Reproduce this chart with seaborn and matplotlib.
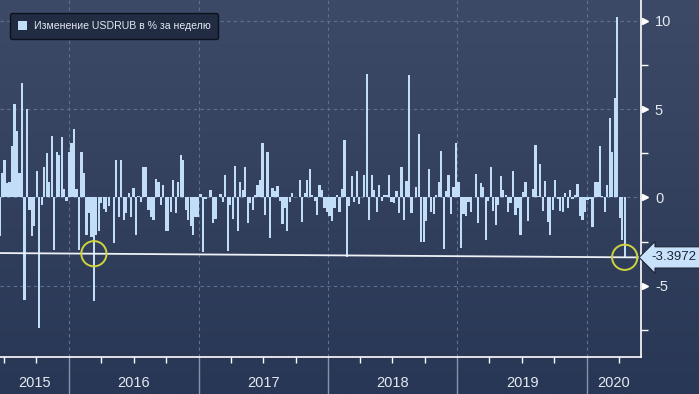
import numpy as np
import pandas as pd
import matplotlib
matplotlib.use('Agg')
import matplotlib.pyplot as plt
import matplotlib.dates as mdates
import matplotlib.transforms as mtransforms
from matplotlib.colors import LinearSegmentedColormap
import seaborn as sns

# weekly USDRUB change, % (oldest first)
weekly_change = [
    -2.2, 1.4, 2.1, 0.8, 0.9, 2.9, 5.3, 3.75, 1.4, 6.5,
    -5.8, 5.0, -0.7, -2.2, -1.6, 1.5, -7.4, -0.4, 1.75, 2.5,
    0.85, 3.5, -3.0, 2.6, 2.4, 3.4, 0.5, -0.2, 2.6, 3.1,
    3.9, 0.5, -3.0, 2.6, 1.4, -2.1, -0.9, -2.25, -5.85, -2.1,
    -1.9, -0.3, -0.65, -0.85, -0.5, 0.05, -2.6, 2.1, -1.1, 2.1,
    -1.3, -0.9, 0.25, -1.1, 0.55, -2.1, 0.1, -0.25, 1.7, 1.75,
    -0.7, -1.1, -1.3, 1.05, 0.85, -0.45, 0.7, -1.9, -1.9, -0.85,
    1.0, -0.9, 0.85, 2.4, 2.1, -0.7, -1.3, -1.6, -2.1, -1.1,
    -1.1, 0.2, -3.1, -0.1, 0.05, 0.45, -1.45, -1.2, 0.05, 0.2,
    -0.25, 1.25, -3.05, -0.45, -1.2, 1.8, -1.9, 0.85, 0.45, 1.75,
    -1.45, -0.3, -0.7, 0.15, 0.7, 1.0, 3.1, -1.0, 2.55, -2.3,
    0.55, 0.35, 0.65, -0.2, -1.5, -0.6, -1.9, -0.25, 0.25, 0.03,
    0.05, 1.0, -1.4, 0.25, 1.0, 1.6, 0.15, -0.2, -1.0, 0.7,
    0.4, -0.6, -0.8, -1.05, -1.35, -0.6, 0.15, -0.8, 0.5, 3.25,
    -3.4, -0.5, 1.2, -0.25, 1.5, -0.35, 0.05, 1.3, 7.0, -1.25,
    1.25, 0.45, -0.85, 0.7, -0.2, 0.15, 0.15, 1.3, -0.25, -0.3,
    0.35, -0.9, 1.7, -1.25, 0.95, 6.95, -0.9, 0.05, 0.6, 3.6,
    -2.5, -2.55, -1.35, 1.6, -0.85, -0.95, 0.15, 0.85, 2.65, -2.9,
    0.35, 1.3, -0.95, 0.6, 3.1, 0.85, -2.85, -0.95, -1.05, -0.25,
    -0.85, 0.03, 1.35, -1.45, 0.8, 0.6, -2.4, -0.2, 1.7, -0.75,
    -1.55, -0.45, 1.2, 0.45, 0.15, -0.85, -0.3, 1.5, -1.0, -0.6,
    -2.15, 0.3, 0.9, -1.35, 0.03, 0.5, 2.95, 0.1, 1.9, -0.75,
    0.95, -1.4, -2.15, -0.7, 1.0, -0.1, -0.75, -0.8, 0.25, -0.6,
    0.45, -0.1, 0.15, 0.75, -1.05, -1.25, -0.85, -0.15, -0.1, -1.7,
    0.85, 0.9, 2.9, 0.1, -0.85, 0.7, 4.5, 2.55, 5.65, 10.2,
    -1.15, -2.4, -3.3972,
]
last_week = '2020-04-17'
x_start, x_end = '2015-06-20', '2020-06-02'

trend_start, trend_end = -3.15, -3.3972
trend_label = '-3.3972'
circled = [38, len(weekly_change) - 1]

years = [2015, 2016, 2017, 2018, 2019, 2020]
y_major = [10, 5, 0, -5]
y_minor = [7.5, 2.5, -2.5, -7.5]
y_lim = (-9.04, 11.19)
legend_label = 'Изменение USDRUB в % за неделю'

bar_color = '#c2ddf7'
grid_color = '#5f7090'
text_color = '#e4e9f0'

dates = pd.date_range(end=last_week, periods=len(weekly_change), freq='7D')
df = pd.DataFrame({'date': mdates.date2num(dates), 'change': weekly_change})

sns.set_style('dark')
plt.rcParams['font.family'] = ['Liberation Sans', 'DejaVu Sans']
plt.rcParams['axes.unicode_minus'] = False

W, H = 699, 394
fig = plt.figure(figsize=(W / 100, H / 100), dpi=100)

# background gradient
bg = fig.add_axes([0, 0, 1, 1], zorder=0)
grad = np.linspace(0, 1, 256).reshape(-1, 1)
cmap = LinearSegmentedColormap.from_list('bb', ['#3d4a67', '#283755'])
bg.imshow(grad, aspect='auto', cmap=cmap, extent=[0, 1, 0, 1])
bg.axis('off')

ax = fig.add_axes([0, 37 / H, 641 / W, 357 / H], zorder=1)
ax.set_facecolor('none')

sns.barplot(data=df, x='date', y='change', native_scale=True, color=bar_color,
            saturation=1, linewidth=0, errorbar=None, label=legend_label,
            width=0.9, ax=ax, zorder=3)

x0 = mdates.date2num(pd.Timestamp(x_start))
x1 = mdates.date2num(pd.Timestamp(x_end))
ax.set_xlim(x0, x1)
ax.set_ylim(*y_lim)
ax.set_xlabel('')
ax.set_ylabel('')
ax.grid(False)

# dashed grid
year_starts = [mdates.date2num(pd.Timestamp(f'{y}-01-01')) for y in years[1:]]
for yv in y_major:
    ax.axhline(yv, color=grid_color, lw=0.8, ls=(0, (3, 3)), zorder=1)
for xv in year_starts:
    ax.axvline(xv, color=grid_color, lw=0.8, ls=(0, (3, 3)), zorder=1)

# trend line and circles
ax.plot([x0, x1], [trend_start, trend_end], color='#eef2f7', lw=1.3, zorder=4)
cx = df['date'].iloc[circled].values
cy = np.interp(cx, [x0, x1], [trend_start, trend_end])
ax.scatter(cx, cy, s=330, facecolors='none', edgecolors='#cfd43e',
           linewidths=1.4, zorder=5)

# spines
for s in ['top', 'left']:
    ax.spines[s].set_visible(False)
for s in ['right', 'bottom']:
    ax.spines[s].set_color('white')
    ax.spines[s].set_linewidth(1.2)

# right axis
ax.yaxis.tick_right()
ax.set_yticks(y_major)
ax.set_yticks(y_minor, minor=True)
ax.tick_params(axis='y', which='major', length=0, pad=10, labelcolor=text_color, labelsize=10.5)
ax.tick_params(axis='y', which='minor', length=5, width=1, color='white', direction='out', right=True)
tri = mtransforms.blended_transform_factory(ax.transAxes, ax.transData) + \
    mtransforms.ScaledTranslation(4 / 100, 0, fig.dpi_scale_trans)
ax.plot([1] * len(y_major), y_major, marker='>', ls='none', ms=5, color='white',
        transform=tri, clip_on=False, zorder=6)

# bottom axis: quarter ticks, year separators, year labels
quarters = [mdates.date2num(d) for d in pd.date_range(x_start, x_end, freq='QS')
            if d.month != 1]
ax.set_xticks(quarters)
ax.set_xticklabels([])
ax.tick_params(axis='x', length=4, width=1, color='white', direction='out', bottom=True)

xt = mtransforms.blended_transform_factory(ax.transData, ax.transAxes)
for xv in year_starts:
    ax.plot([xv, xv], [0, -37 / 357], color='#8893a8', lw=1, transform=xt, clip_on=False)
bounds = [x0] + year_starts + [x1]
for i, y in enumerate(years):
    ax.text((bounds[i] + bounds[i + 1]) / 2, -26 / 357, str(y), transform=xt,
            ha='center', va='center', fontsize=10.5, color=text_color)

# last value tag
tag = mtransforms.blended_transform_factory(ax.transAxes, ax.transData) + \
    mtransforms.ScaledTranslation(10 / 100, 0, fig.dpi_scale_trans)
ax.text(1, trend_end, trend_label, transform=tag, ha='left', va='center',
        fontsize=9.5, color='#1b2435', clip_on=False, zorder=7,
        bbox=dict(boxstyle='larrow,pad=0.35', fc='#c9e2fb', ec='#1b2435', lw=0.8))

# legend
leg = ax.legend(loc='upper left', bbox_to_anchor=(10 / 641, 1 - 13 / 357),
                frameon=True, fontsize=7.6, handlelength=0.9, handleheight=0.9,
                handletextpad=0.6, borderpad=0.75, borderaxespad=0,
                labelcolor=text_color, fancybox=True)
leg.get_frame().set_facecolor('#212c43')
leg.get_frame().set_edgecolor('#0c111c')
leg.get_frame().set_alpha(1)

fig.savefig('out.png', dpi=100)
